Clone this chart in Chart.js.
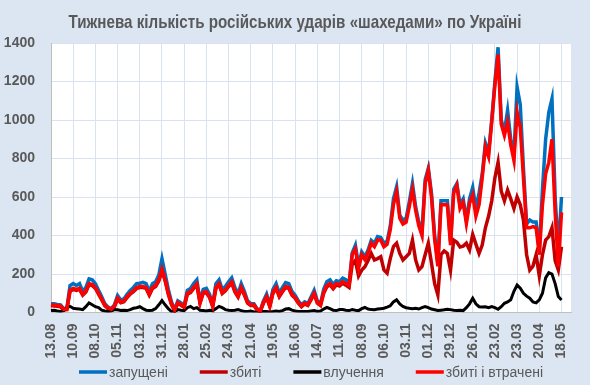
<!DOCTYPE html>
<html>
<head>
<meta charset="utf-8">
<script src="https://cdn.jsdelivr.net/npm/chart.js@4"></script>
<style>
  html, body { margin: 0; padding: 0; background: #dce6f2; }
  #wrap { width: 590px; height: 385px; position: relative; }
</style>
</head>
<body>
<div id="wrap"><canvas id="shahedChart"></canvas></div>
<script>
const chartTitle = 'Тижнева кількість російських ударів «шахедами» по Україні';

// one category every 4 days, 13.08.2023 .. ~29.05.2025
const categoryCount = 165;
const tickEvery = 7;
const tickLabels = ['13.08', '10.09', '08.10', '05.11', '03.12', '31.12', '28.01', '25.02',
  '24.03', '21.04', '19.05', '16.06', '14.07', '11.08', '08.09', '06.10', '03.11', '01.12',
  '29.12', '26.01', '23.02', '23.03', '20.04', '18.05'];

const launched = [
  46, 45, 42, 40, 20, 22, 140, 150, 140, 150,
  110, 130, 175, 170, 150, 115, 82, 45, 28, 20,
  40, 88, 65, 70, 95, 115, 130, 150, 152, 157,
  150, 110, 150, 160, 195, 280, 200, 120, 55, 15,
  60, 50, 35, 115, 125, 150, 170, 60, 120, 125,
  95, 40, 150, 170, 120, 135, 160, 180, 130, 97,
  150, 110, 60, 46, 46, 20, 10, 60, 95, 40,
  120, 150, 100, 130, 155, 150, 110, 90, 60, 40,
  55, 46, 80, 115, 60, 46, 120, 160, 170, 145,
  165, 160, 178, 170, 150, 310, 350, 245, 315, 290,
  325, 375, 360, 394, 390, 360, 370, 450, 590, 653,
  505, 480, 490, 575, 670, 550, 470, 420, 690, 750,
  620, 400, 255, 580, 580, 580, 370, 640, 670, 560,
  590, 480, 590, 650, 540, 620, 720, 880, 830, 1000,
  1200, 1378, 1000, 940, 1050, 900, 820, 1171, 1080, 750,
  460, 480, 470, 470, 320, 640, 900, 1040, 1110, 600,
  320, 600
];

const shotDown = [
  36, 34, 32, 30, 13, 15, 110, 120, 115, 120,
  90, 107, 145, 140, 125, 96, 66, 35, 21, 13,
  30, 70, 51, 56, 78, 96, 108, 125, 130, 130,
  125, 90, 125, 135, 164, 218, 164, 95, 41, 9,
  48, 38, 27, 95, 103, 125, 143, 48, 100, 103,
  78, 30, 125, 145, 99, 113, 135, 154, 107, 80,
  125, 90, 48, 36, 36, 13, 5, 48, 78, 30,
  100, 125, 82, 108, 130, 125, 90, 74, 48, 30,
  44, 36, 66, 95, 48, 36, 100, 134, 144, 124,
  144, 138, 152, 142, 130, 250, 270, 190, 220, 238,
  270, 307, 273, 280, 290, 221, 204, 280, 342, 360,
  307, 273, 290, 307, 376, 273, 221, 238, 300, 360,
  256, 150, 92, 300, 320, 307, 220, 376, 365, 340,
  345, 360, 325, 405, 355, 307, 350, 440, 500, 580,
  700, 780, 630, 580, 636, 590, 540, 600, 560, 480,
  300, 220, 240, 300, 190, 300, 376, 394, 440, 270,
  221, 342
];

const hits = [
  10, 12, 8, 5, 10, 25, 32, 22, 20, 18,
  15, 30, 50, 40, 30, 25, 12, 8, 5, 8,
  15, 14, 10, 12, 10, 15, 22, 25, 30, 20,
  12, 10, 12, 20, 40, 62, 40, 20, 5, 5,
  15, 12, 10, 25, 32, 20, 25, 12, 10, 8,
  12, 10, 20, 32, 25, 15, 12, 10, 12, 15,
  10, 5, 5, 8, 3, 2, 2, 5, 5, 3,
  5, 8, 5, 10, 18, 20, 12, 8, 5, 5,
  5, 5, 8, 10, 5, 8, 18, 26, 20, 12,
  10, 15, 15, 12, 10, 15, 12, 10, 20, 26,
  18, 15, 14, 18, 20, 22, 28, 35, 55, 66,
  45, 31, 25, 22, 20, 22, 18, 25, 31, 25,
  18, 14, 10, 12, 14, 17, 15, 12, 10, 12,
  10, 25, 45, 74, 45, 30, 28, 30, 25, 31,
  25, 17, 30, 48, 55, 66, 110, 143, 126, 100,
  85, 74, 55, 50, 66, 100, 180, 207, 200, 150,
  83, 65
];

const shotOrLost = [
  40, 38, 36, 34, 16, 18, 115, 125, 120, 125,
  95, 112, 150, 145, 130, 100, 70, 38, 24, 16,
  34, 75, 55, 60, 82, 100, 112, 130, 135, 135,
  130, 95, 130, 140, 170, 225, 170, 100, 45, 12,
  52, 42, 30, 100, 108, 130, 148, 52, 105, 108,
  82, 34, 130, 150, 104, 118, 140, 160, 112, 85,
  130, 95, 52, 40, 40, 16, 8, 52, 82, 34,
  105, 130, 87, 113, 135, 130, 95, 78, 52, 34,
  48, 40, 70, 100, 52, 40, 105, 140, 150, 130,
  150, 145, 160, 150, 140, 300, 330, 230, 300, 275,
  310, 360, 342, 376, 376, 342, 355, 430, 560, 627,
  490, 460, 470, 550, 640, 530, 450, 400, 670, 739,
  600, 380, 240, 560, 560, 560, 350, 620, 660, 540,
  570, 463, 567, 610, 500, 560, 700, 860, 810, 990,
  1180, 1340, 980, 920, 990, 870, 790, 1041, 960, 700,
  440, 440, 446, 440, 300, 560, 720, 780, 900, 520,
  240, 520
];

const categories = Array.from({ length: categoryCount }, (_, i) => i);

const plotBackground = {
  id: 'plotBackground',
  beforeDraw(chart) {
    const { ctx, chartArea } = chart;
    ctx.save();
    ctx.fillStyle = '#ffffff';
    ctx.fillRect(chartArea.left, chartArea.top, chartArea.right - chartArea.left, chartArea.bottom - chartArea.top);
    ctx.restore();
  }
};

// title squeezed horizontally to mimic a narrow bold face
const topTitle = {
  id: 'topTitle',
  afterDraw(chart) {
    const ctx = chart.ctx;
    ctx.save();
    ctx.font = 'bold 19px "Liberation Sans", Arial, sans-serif';
    ctx.fillStyle = '#595959';
    ctx.textAlign = 'center';
    ctx.textBaseline = 'alphabetic';
    const w = ctx.measureText(chartTitle).width;
    const sx = Math.min(1, 453 / w);
    ctx.translate(295, 28);
    ctx.scale(sx, 1);
    ctx.fillText(chartTitle, 0, 0);
    ctx.restore();
  }
};

// legend row under the axis labels, centred on the plot area
const bottomLegend = {
  id: 'bottomLegend',
  afterDraw(chart) {
    const ctx = chart.ctx;
    const area = chart.chartArea;
    const lineW = 28, gapText = 2, gapItem = 32, y = 372;
    ctx.save();
    ctx.font = '14px "Liberation Sans", Arial, sans-serif';
    ctx.textBaseline = 'middle';
    ctx.textAlign = 'left';
    const items = chart.data.datasets.map(ds => ({
      text: ds.label, color: ds.borderColor, width: ctx.measureText(ds.label).width
    }));
    const total = items.reduce((s, it) => s + lineW + gapText + it.width, 0) + gapItem * (items.length - 1);
    let x = (area.left + area.right) / 2 - total / 2;
    items.forEach(it => {
      ctx.strokeStyle = it.color;
      ctx.lineWidth = 3.5;
      ctx.beginPath();
      ctx.moveTo(x, y);
      ctx.lineTo(x + lineW, y);
      ctx.stroke();
      ctx.fillStyle = '#595959';
      ctx.fillText(it.text, x + lineW + gapText, y + 1);
      x += lineW + gapText + it.width + gapItem;
    });
    ctx.restore();
  }
};

Chart.defaults.font.family = '"Liberation Sans", Arial, sans-serif';
Chart.defaults.color = '#595959';

function series(label, data, color, width, order) {
  return {
    label: label,
    data: data,
    borderColor: color,
    backgroundColor: color,
    borderWidth: width,
    pointRadius: 0,
    tension: 0,
    fill: false,
    order: order
  };
}

const ctx = document.getElementById('shahedChart').getContext('2d');
new Chart(ctx, {
  type: 'line',
  data: {
    labels: categories,
    datasets: [
      series('запущені', launched, '#0070c0', 3.5, 4),
      series('збиті', shotDown, '#c00000', 3.5, 3),
      series('влучення', hits, '#000000', 3, 2),
      series('збиті і втрачені', shotOrLost, '#ff0000', 3.5, 1)
    ]
  },
  options: {
    responsive: true,
    maintainAspectRatio: false,
    animation: false,
    layout: { padding: { left: 0, right: 19, top: 43, bottom: 26 } },
    plugins: {
      title: { display: false },
      tooltip: { enabled: false },
      legend: { display: false }
    },
    scales: {
      x: {
        type: 'category',
        afterFit: (scale) => { scale.height = 46.5; },
        grid: { color: '#d9e2ef', drawTicks: false },
        border: { color: '#bfbfbf' },
        ticks: {
          autoSkip: false,
          minRotation: 90,
          maxRotation: 90,
          padding: 11,
          color: '#595959',
          font: { size: 14, weight: 'bold' },
          callback: (value, index) => index % tickEvery === 0 ? tickLabels[index / tickEvery] : null
        }
      },
      y: {
        min: 0,
        max: 1400,
        afterFit: (scale) => { scale.width = 51; },
        grid: { color: '#d9e2ef', drawTicks: false },
        border: { color: '#bfbfbf' },
        ticks: {
          stepSize: 200,
          padding: 16,
          color: '#595959',
          font: { size: 14, weight: 'bold' },
          callback: (value) => String(value)
        }
      }
    }
  },
  plugins: [plotBackground, topTitle, bottomLegend]
});
</script>
</body>
</html>
